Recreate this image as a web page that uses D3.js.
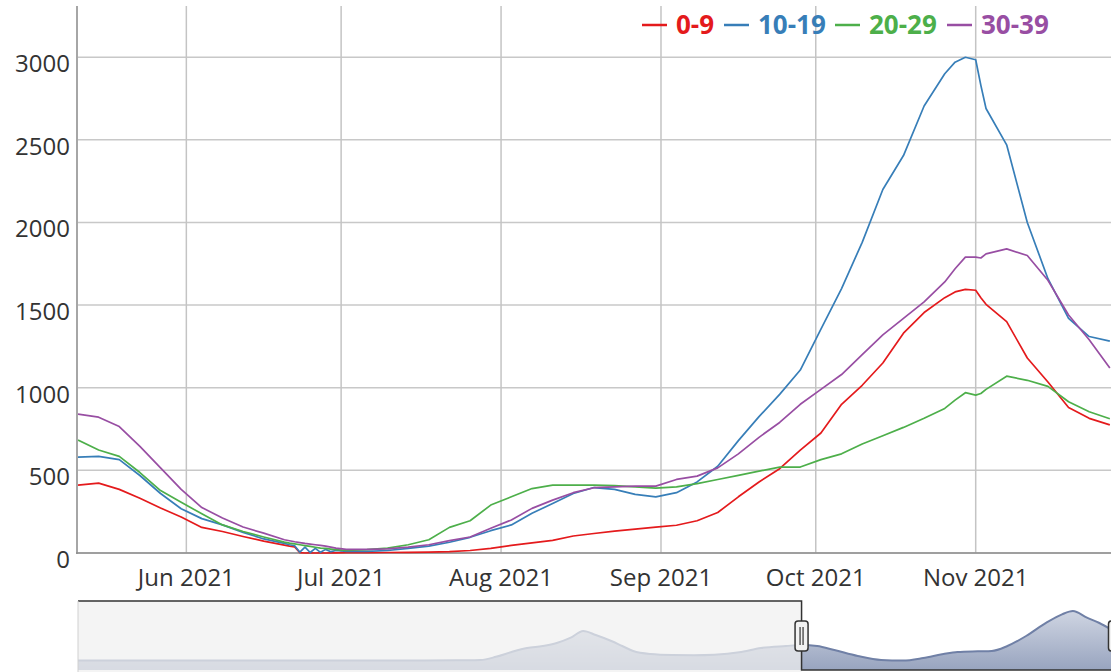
<!DOCTYPE html>
<html><head><meta charset="utf-8">
<script src="https://cdn.jsdelivr.net/npm/d3@7"></script>
<style>
body{margin:0;background:#fff;overflow:hidden;}
svg{display:block;font-family:"Open Sans","Noto Sans",sans-serif;}
</style>
</head><body>
<svg id="chart" width="1111" height="672"></svg>
<script>
// ---------------- data ----------------
const dates = ["2021-05-11","2021-05-15","2021-05-19","2021-05-23","2021-05-27","2021-05-31",
"2021-06-04","2021-06-08","2021-06-12","2021-06-16",
"2021-06-20","2021-06-21","2021-06-22","2021-06-23","2021-06-24","2021-06-25","2021-06-26",
"2021-06-27","2021-06-28","2021-06-29","2021-06-30",
"2021-07-02","2021-07-06","2021-07-10","2021-07-14","2021-07-18","2021-07-22","2021-07-26","2021-07-30",
"2021-08-03","2021-08-07","2021-08-11","2021-08-15","2021-08-19","2021-08-23","2021-08-27","2021-08-31",
"2021-09-04","2021-09-08","2021-09-12","2021-09-16","2021-09-20","2021-09-24","2021-09-28",
"2021-10-02","2021-10-06","2021-10-10","2021-10-14","2021-10-18","2021-10-22","2021-10-26",
"2021-10-28","2021-10-30","2021-11-01","2021-11-02","2021-11-03",
"2021-11-07","2021-11-11","2021-11-15","2021-11-19","2021-11-23","2021-11-27"];

const age0_9 = [411,423,385,331,272,218,155,130,100,72,
48,42,37,2,0,1,0,1,0,1,1,
2,2,3,4,5,8,15,28,
46,61,76,103,118,132,144,156,
168,195,245,340,430,510,623,
726,900,1015,1150,1330,1455,1545,
1580,1595,1590,1545,1505,
1400,1180,1035,880,815,775];

const age10_19 = [580,585,565,469,360,268,208,170,125,85,
58,50,44,5,35,3,28,4,22,8,15,
10,10,15,28,42,65,95,135,
170,240,300,360,396,385,355,340,
365,430,525,680,825,960,1107,
1355,1600,1880,2200,2405,2705,2900,
2970,3000,2985,2830,2690,
2470,2000,1660,1420,1310,1282];

const age20_29 = [683,623,585,487,378,307,237,170,130,97,
66,60,55,50,45,40,35,30,28,24,20,
15,20,30,50,80,155,195,290,
340,390,411,411,411,408,400,392,
400,420,445,470,495,520,520,
565,600,660,710,760,815,875,
925,970,955,965,990,
1070,1045,1008,915,855,812];

const age30_39 = [840,822,765,645,515,385,275,212,157,120,
80,74,68,63,58,54,50,46,42,36,30,
22,22,25,36,50,75,97,150,
200,270,320,365,395,400,405,405,
445,465,515,600,700,790,900,
990,1080,1200,1320,1420,1520,1640,
1720,1790,1790,1785,1810,
1840,1800,1650,1440,1290,1120];

const seriesNames = ["0-9","10-19","20-29","30-39"];
const seriesColors = ["#e41a1c","#377eb8","#4daf4a","#984ea3"];
const seriesValues = [age0_9, age10_19, age20_29, age30_39];

const yTickValues = [0,500,1000,1500,2000,2500,3000];
const xTickDates = ["2021-06-01","2021-07-01","2021-08-01","2021-09-01","2021-10-01","2021-11-01"];

// navigator (overview) series
const navDates = ["2020-02-02","2020-03-01","2020-04-01","2020-05-01","2020-06-01","2020-07-01","2020-08-01",
"2020-09-01","2020-10-01","2020-10-17","2020-10-27","2020-11-06","2020-11-16","2020-11-26","2020-12-05",
"2020-12-14","2020-12-22","2020-12-30","2021-01-09","2021-01-16","2021-01-23","2021-02-03","2021-02-17",
"2021-03-03","2021-03-16","2021-04-01","2021-04-15","2021-05-01","2021-05-11","2021-05-21","2021-06-01",
"2021-06-16","2021-07-01","2021-07-15","2021-07-28","2021-08-10","2021-08-19","2021-09-01","2021-09-10",
"2021-09-20","2021-10-02","2021-10-15","2021-10-25","2021-11-01","2021-11-10","2021-11-18","2021-11-28"];
const navValues = [30,30,35,30,25,25,30,35,40,60,250,540,780,900,1080,
1400,1800,1560,1200,900,600,420,360,350,380,520,780,900,960,900,660,
300,60,30,180,420,540,580,600,900,1500,2300,2800,3000,2600,2280,1750];

const viewEnd = "2021-11-28";

// ---------------- layout ----------------
const W = 1111, H = 672;
const plot = {left: 78, right: 1115, top: 6, bottom: 553};
const nav = {left: 78, right: 1115, top: 601, bottom: 670};

const parse = d3.utcParse("%Y-%m-%d");
const svg = d3.select("#chart");

const x = d3.scaleUtc().domain([parse(dates[0]), parse(viewEnd)]).range([plot.left, plot.right]);
const y = d3.scaleLinear().domain([0, 3310]).range([plot.bottom, plot.top]);

// grid
const grid = svg.append("g");
grid.selectAll("line.h").data(yTickValues).join("line")
  .attr("x1", plot.left).attr("x2", W)
  .attr("y1", d => y(d)).attr("y2", d => y(d))
  .attr("stroke", "#c8c8c8").attr("stroke-width", 1.5);
grid.selectAll("line.v").data(xTickDates).join("line")
  .attr("x1", d => x(parse(d))).attr("x2", d => x(parse(d)))
  .attr("y1", plot.top).attr("y2", plot.bottom)
  .attr("stroke", "#c4c4c4").attr("stroke-width", 1.5);

// axes lines
svg.append("line").attr("x1", plot.left - 1).attr("x2", plot.left - 1)
  .attr("y1", plot.top).attr("y2", plot.bottom + 1)
  .attr("stroke", "#a6a6a6").attr("stroke-width", 2);
svg.append("line").attr("x1", plot.left - 2).attr("x2", W)
  .attr("y1", plot.bottom).attr("y2", plot.bottom)
  .attr("stroke", "#8c8c8c").attr("stroke-width", 1.5);

// tick labels
const fmt = d3.utcFormat("%b %Y");
svg.append("g").selectAll("text").data(yTickValues).join("text")
  .attr("x", 70).attr("y", d => y(d) + 15)
  .attr("text-anchor", "end").attr("font-size", 24).attr("fill", "#333")
  .text(d => d);
svg.append("g").selectAll("text").data(xTickDates).join("text")
  .attr("x", d => x(parse(d))).attr("y", 586)
  .attr("text-anchor", "middle").attr("font-size", 24).attr("fill", "#333")
  .text(d => fmt(parse(d)));

// series
svg.append("clipPath").attr("id", "clip").append("rect")
  .attr("x", plot.left).attr("y", 0).attr("width", plot.right - plot.left).attr("height", plot.bottom + 1);
const line = d3.line().x(d => x(d.date)).y(d => y(d.value));
const series = seriesValues.map((vals, i) => ({
  name: seriesNames[i], color: seriesColors[i],
  points: vals.map((v, j) => ({date: parse(dates[j]), value: v}))
}));
svg.append("g").attr("clip-path", "url(#clip)").selectAll("path").data(series).join("path")
  .attr("d", s => line(s.points))
  .attr("fill", "none").attr("stroke", s => s.color).attr("stroke-width", 1.7)
  .attr("stroke-linejoin", "round");

// legend
const legendX = [642, 724, 835, 947];
const lg = svg.append("g");
series.forEach((s, i) => {
  const g = lg.append("g").attr("transform", `translate(${legendX[i]},0)`);
  g.append("line").attr("x1", 0).attr("x2", 25).attr("y1", 25).attr("y2", 25)
    .attr("stroke", s.color).attr("stroke-width", 2.5);
  g.append("text").attr("x", 34).attr("y", 34).attr("font-size", 26).attr("font-weight", "bold")
    .attr("fill", s.color).text(s.name);
});

// ---------------- navigator ----------------
const nx = d3.scaleUtc().domain([parse(navDates[0]), parse(viewEnd)]).range([nav.left, nav.right]);
const ny = d3.scaleLinear().domain([0, 3000]).range([nav.bottom - 9, nav.top + 10]);
const navPts = navValues.map((v, i) => ({date: parse(navDates[i]), value: v}));
const defs = svg.append("defs");
const grad = defs.append("linearGradient").attr("id", "navGrad").attr("x1", 0).attr("x2", 0).attr("y1", 0).attr("y2", 1);
grad.append("stop").attr("offset", "0%").attr("stop-color", "#cfd5e2");
grad.append("stop").attr("offset", "100%").attr("stop-color", "#98a4bf");
const area = d3.area().x(d => nx(d.date)).y0(nav.bottom).y1(d => ny(d.value)).curve(d3.curveMonotoneX);
const navLine = d3.line().x(d => nx(d.date)).y(d => ny(d.value)).curve(d3.curveMonotoneX);
svg.append("rect").attr("x", nav.left).attr("y", nav.top).attr("width", nav.right - nav.left)
  .attr("height", nav.bottom - nav.top).attr("fill", "#fff");
svg.append("path").attr("d", area(navPts)).attr("fill", "url(#navGrad)");
svg.append("path").attr("d", navLine(navPts)).attr("fill", "none").attr("stroke", "#7080a6").attr("stroke-width", 2);

const selL = nx(parse(dates[0])), selR = nx(parse(viewEnd));
// mask on the unselected part
svg.append("rect").attr("x", nav.left).attr("y", nav.top).attr("width", selL - nav.left)
  .attr("height", H - nav.top).attr("fill", "rgba(240,240,240,0.72)");
// outline
svg.append("path")
  .attr("d", `M${nav.left},${nav.top}H${selL}V${nav.bottom}H${selR}V${nav.top}`)
  .attr("fill", "none").attr("stroke", "#333").attr("stroke-width", 1.5);
svg.append("line").attr("x1", nav.left).attr("x2", nav.left).attr("y1", nav.top).attr("y2", H)
  .attr("stroke", "#d0d0d0").attr("stroke-width", 1);
// handles
[selL, selR].forEach(hx => {
  const g = svg.append("g").attr("transform", `translate(${hx},636)`);
  g.append("rect").attr("x", -6.5).attr("y", -15).attr("width", 13).attr("height", 30).attr("rx", 3)
    .attr("fill", "#f2f2f2").attr("stroke", "#333").attr("stroke-width", 1.5);
  g.append("line").attr("x1", -1.5).attr("x2", -1.5).attr("y1", -9).attr("y2", 9).attr("stroke", "#333").attr("stroke-width", 1.2);
  g.append("line").attr("x1", 1.5).attr("x2", 1.5).attr("y1", -9).attr("y2", 9).attr("stroke", "#333").attr("stroke-width", 1.2);
});
</script>
</body></html>
